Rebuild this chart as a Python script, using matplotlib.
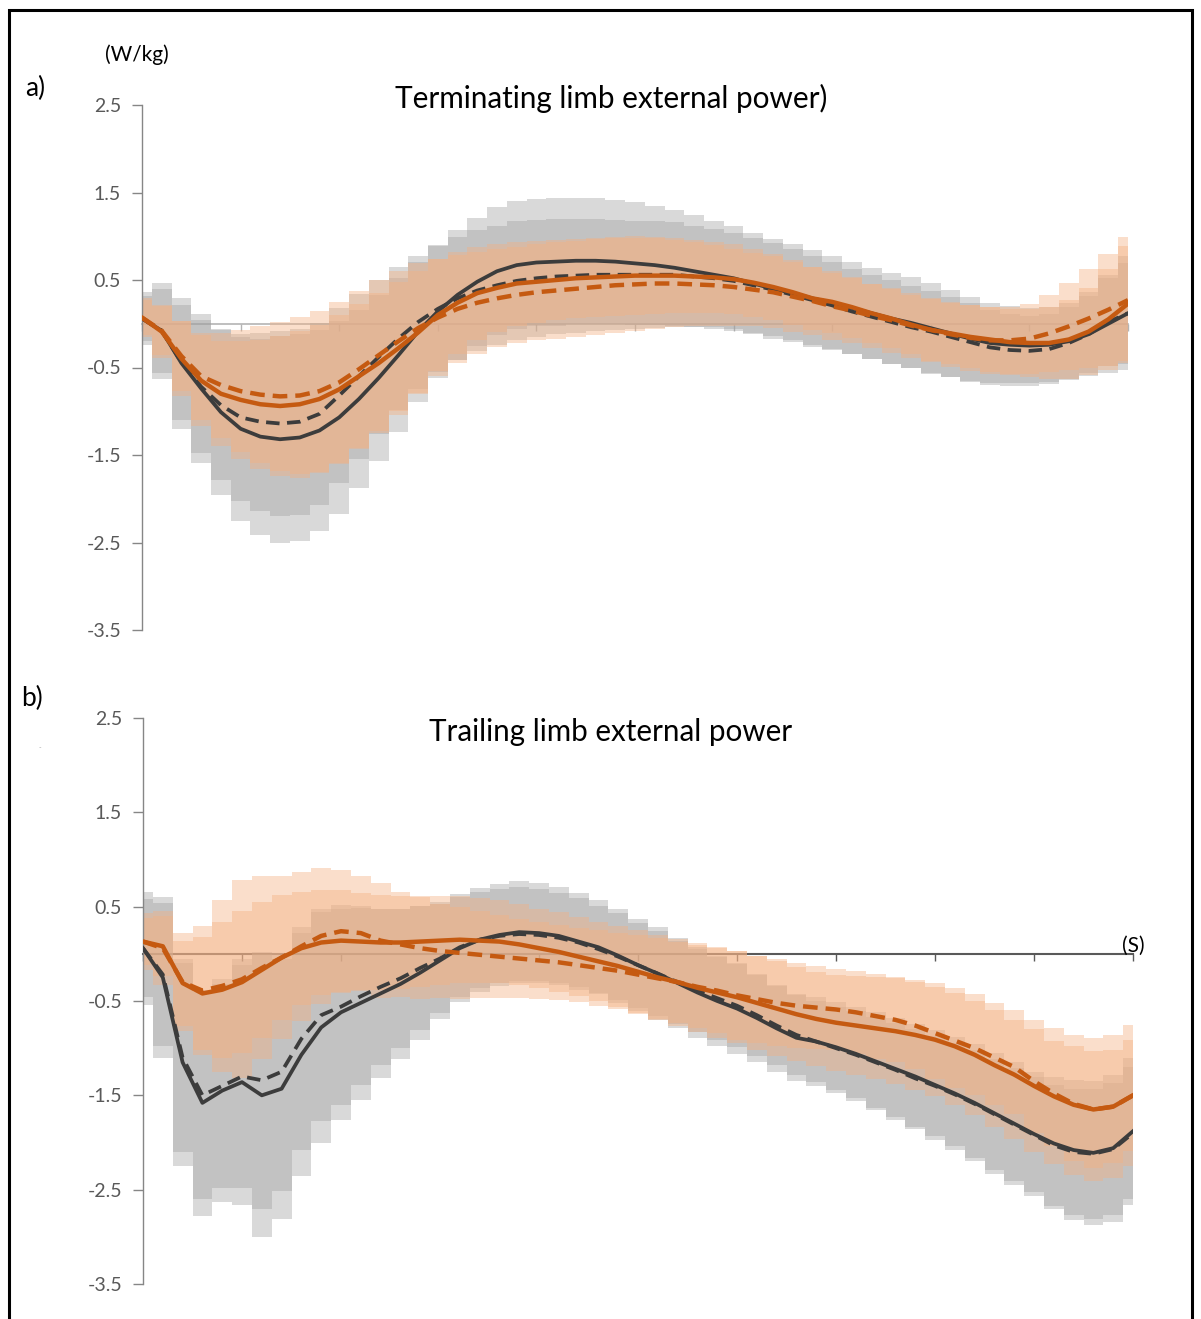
import numpy as np
import matplotlib
matplotlib.use("Agg")
import matplotlib.pyplot as plt
from matplotlib.patches import Rectangle

plt.rcParams['font.family'] = ['Lato', 'DejaVu Sans']

# time axis (% of step), one bar every 2 %
pct = list(range(0, 101, 2))

# ---- panel a : terminating limb ----
a_blk_solid = [0.06, -0.08, -0.45, -0.74, -1.01, -1.2, -1.29, -1.32, -1.3, -1.22, -1.07, -0.86, -0.62, -0.36, -0.09,
               0.14, 0.33, 0.48, 0.6, 0.67, 0.7, 0.71, 0.72, 0.72, 0.71, 0.69, 0.67, 0.64, 0.6, 0.56, 0.52, 0.46,
               0.4, 0.35, 0.29, 0.24, 0.18, 0.12, 0.06, 0.01, -0.05, -0.11, -0.17, -0.22, -0.24, -0.25, -0.24,
               -0.2, -0.12, 0.0, 0.12]
a_blk_dash = [0.06, -0.08, -0.44, -0.72, -0.93, -1.07, -1.12, -1.14, -1.12, -1.03, -0.82, -0.6, -0.38, -0.17, 0.02,
              0.17, 0.29, 0.38, 0.44, 0.49, 0.52, 0.54, 0.55, 0.56, 0.56, 0.56, 0.56, 0.56, 0.54, 0.52, 0.49, 0.44,
              0.39, 0.33, 0.27, 0.21, 0.14, 0.08, 0.02, -0.04, -0.09, -0.15, -0.21, -0.27, -0.3, -0.31, -0.29,
              -0.22, -0.12, 0.02, 0.12]
a_org_solid = [0.07, -0.09, -0.4, -0.65, -0.8, -0.87, -0.92, -0.94, -0.92, -0.86, -0.75, -0.6, -0.45, -0.28, -0.1,
               0.1, 0.24, 0.35, 0.41, 0.46, 0.48, 0.5, 0.52, 0.53, 0.54, 0.55, 0.55, 0.55, 0.54, 0.53, 0.51, 0.47,
               0.42, 0.36, 0.29, 0.25, 0.19, 0.12, 0.06, -0.01, -0.07, -0.11, -0.15, -0.18, -0.21, -0.22, -0.22,
               -0.18, -0.09, 0.05, 0.23]
a_org_dash = [0.07, -0.08, -0.37, -0.6, -0.7, -0.77, -0.81, -0.83, -0.82, -0.77, -0.67, -0.52, -0.36, -0.2, -0.05,
              0.07, 0.17, 0.24, 0.29, 0.33, 0.36, 0.38, 0.4, 0.42, 0.44, 0.45, 0.46, 0.46, 0.45, 0.44, 0.42, 0.39,
              0.36, 0.31, 0.26, 0.2, 0.15, 0.09, 0.04, -0.02, -0.07, -0.12, -0.16, -0.19, -0.19, -0.17, -0.11,
              -0.03, 0.06, 0.16, 0.27]
a_blk_solid_sd = [0.3, 0.55, 0.75, 0.85, 0.95, 1.05, 1.12, 1.18, 1.18, 1.15, 1.1, 1.02, 0.95, 0.88, 0.8, 0.76, 0.74,
                  0.73, 0.73, 0.73, 0.73, 0.73, 0.72, 0.72, 0.71, 0.7, 0.68, 0.66, 0.64, 0.62, 0.6, 0.58, 0.57,
                  0.56, 0.55, 0.54, 0.53, 0.52, 0.52, 0.52, 0.52, 0.5, 0.48, 0.46, 0.44, 0.43, 0.43, 0.44, 0.48,
                  0.56, 0.65]
a_blk_dash_sd = [0.26, 0.48, 0.66, 0.76, 0.86, 0.95, 1.02, 1.06, 1.06, 1.04, 1.0, 0.94, 0.88, 0.82, 0.76, 0.72,
                 0.7, 0.69, 0.68, 0.68, 0.67, 0.66, 0.65, 0.64, 0.63, 0.62, 0.61, 0.6, 0.58, 0.56, 0.55, 0.54, 0.53,
                 0.52, 0.51, 0.5, 0.49, 0.48, 0.48, 0.47, 0.47, 0.46, 0.45, 0.43, 0.41, 0.4, 0.4, 0.41, 0.44, 0.5,
                 0.58]
a_org_solid_sd = [0.22, 0.3, 0.43, 0.52, 0.6, 0.67, 0.74, 0.8, 0.84, 0.85, 0.85, 0.83, 0.8, 0.76, 0.7, 0.64, 0.58,
                  0.53, 0.5, 0.48, 0.47, 0.46, 0.45, 0.45, 0.45, 0.45, 0.44, 0.43, 0.42, 0.41, 0.4, 0.39, 0.38,
                  0.37, 0.36, 0.35, 0.35, 0.34, 0.34, 0.34, 0.35, 0.35, 0.36, 0.37, 0.38, 0.39, 0.41, 0.45, 0.5,
                  0.58, 0.66]
a_org_dash_sd = [0.2, 0.28, 0.4, 0.5, 0.6, 0.7, 0.78, 0.85, 0.9, 0.92, 0.92, 0.9, 0.86, 0.8, 0.74, 0.67, 0.62, 0.58,
                 0.56, 0.55, 0.55, 0.55, 0.55, 0.55, 0.54, 0.53, 0.52, 0.5, 0.48, 0.46, 0.44, 0.42, 0.41, 0.4, 0.39,
                 0.38, 0.37, 0.37, 0.37, 0.37, 0.37, 0.37, 0.38, 0.38, 0.38, 0.4, 0.44, 0.5, 0.57, 0.64, 0.72]

# ---- panel b : trailing limb ----
b_blk_solid = [0.06, -0.25, -1.15, -1.58, -1.45, -1.36, -1.5, -1.43, -1.07, -0.78, -0.62, -0.52, -0.42, -0.32, -0.2,
               -0.07, 0.06, 0.15, 0.2, 0.23, 0.22, 0.19, 0.13, 0.07, -0.02, -0.12, -0.21, -0.31, -0.41, -0.5, -0.58,
               -0.68, -0.79, -0.89, -0.93, -0.99, -1.06, -1.14, -1.22, -1.3, -1.39, -1.48, -1.58, -1.69, -1.8,
               -1.91, -2.01, -2.08, -2.11, -2.06, -1.88]
b_blk_dash = [0.06, -0.22, -1.1, -1.5, -1.4, -1.3, -1.34, -1.25, -0.9, -0.65, -0.56, -0.45, -0.35, -0.26, -0.15,
              -0.05, 0.07, 0.15, 0.19, 0.21, 0.2, 0.17, 0.12, 0.05, -0.03, -0.12, -0.21, -0.3, -0.39, -0.47, -0.55,
              -0.65, -0.76, -0.86, -0.93, -1.0, -1.07, -1.15, -1.23, -1.32, -1.4, -1.49, -1.59, -1.7, -1.81,
              -1.92, -2.03, -2.1, -2.12, -2.07, -1.9]
b_org_solid = [0.13, 0.08, -0.31, -0.42, -0.38, -0.3, -0.17, -0.04, 0.06, 0.12, 0.14, 0.13, 0.12, 0.12, 0.13, 0.14,
               0.15, 0.14, 0.13, 0.1, 0.06, 0.02, -0.03, -0.08, -0.13, -0.19, -0.25, -0.3, -0.36, -0.41, -0.46,
               -0.52, -0.58, -0.64, -0.69, -0.73, -0.76, -0.79, -0.82, -0.86, -0.91, -0.98, -1.07, -1.18, -1.28,
               -1.4, -1.51, -1.6, -1.65, -1.62, -1.5]
b_org_dash = [0.13, 0.06, -0.3, -0.39, -0.34, -0.27, -0.15, -0.04, 0.08, 0.19, 0.24, 0.22, 0.14, 0.1, 0.06, 0.03,
              0.01, -0.01, -0.03, -0.05, -0.07, -0.09, -0.12, -0.15, -0.18, -0.22, -0.26, -0.3, -0.35, -0.39,
              -0.44, -0.48, -0.52, -0.55, -0.57, -0.59, -0.62, -0.66, -0.7, -0.76, -0.84, -0.92, -1.0, -1.1, -1.2,
              -1.35, -1.48, -1.59, -1.65, -1.62, -1.5]
b_blk_solid_sd = [0.6, 0.85, 1.1, 1.2, 1.18, 1.3, 1.5, 1.38, 1.29, 1.22, 1.14, 1.03, 0.9, 0.8, 0.71, 0.62, 0.57,
                  0.55, 0.54, 0.54, 0.53, 0.52, 0.51, 0.5, 0.5, 0.49, 0.49, 0.48, 0.48, 0.48, 0.48, 0.47, 0.46,
                  0.46, 0.47, 0.48, 0.5, 0.52, 0.54, 0.56, 0.58, 0.6, 0.62, 0.64, 0.65, 0.66, 0.7, 0.74, 0.76,
                  0.78, 0.78]
b_blk_dash_sd = [0.52, 0.76, 1.0, 1.1, 1.08, 1.18, 1.36, 1.26, 1.18, 1.12, 1.04, 0.94, 0.83, 0.74, 0.66, 0.58,
                 0.53, 0.51, 0.5, 0.5, 0.49, 0.48, 0.47, 0.46, 0.46, 0.45, 0.45, 0.44, 0.44, 0.44, 0.44, 0.43, 0.42,
                 0.42, 0.43, 0.44, 0.46, 0.48, 0.5, 0.52, 0.53, 0.55, 0.57, 0.59, 0.6, 0.61, 0.64, 0.67, 0.69, 0.7,
                 0.7]
b_org_solid_sd = [0.25, 0.32, 0.45, 0.6, 0.72, 0.75, 0.72, 0.66, 0.6, 0.56, 0.54, 0.52, 0.5, 0.49, 0.48, 0.47,
                  0.46, 0.45, 0.44, 0.43, 0.42, 0.42, 0.42, 0.42, 0.43, 0.44, 0.45, 0.46, 0.47, 0.48, 0.49, 0.5,
                  0.5, 0.5, 0.5, 0.51, 0.52, 0.54, 0.56, 0.58, 0.6, 0.62, 0.64, 0.66, 0.68, 0.7, 0.72, 0.74, 0.76,
                  0.76, 0.75]
b_org_dash_sd = [0.3, 0.39, 0.52, 0.68, 0.91, 1.05, 0.97, 0.86, 0.79, 0.72, 0.65, 0.6, 0.61, 0.56, 0.54, 0.5,
                 0.49, 0.46, 0.44, 0.42, 0.41, 0.4, 0.39, 0.4, 0.4, 0.42, 0.43, 0.43, 0.44, 0.45, 0.47, 0.46, 0.46,
                 0.45, 0.44, 0.43, 0.44, 0.45, 0.45, 0.46, 0.49, 0.5, 0.5, 0.5, 0.5, 0.55, 0.56, 0.61, 0.62, 0.6,
                 0.59]

y_ticks = [2.5, 1.5, 0.5, -0.5, -1.5, -2.5, -3.5]

BLK = '#3c3c3c'
ORG = '#C55A11'
GREY_BAR = '#a0a0a0'
ORG_BAR = '#f4b183'


def draw_panel(ax, series, zero_col, zero_lw):
    x = np.array(pct)
    # error bars as thick translucent columns
    for mean, sd, col, a in series:
        m = np.array(mean)
        s = np.array(sd)
        ax.bar(x, 2 * s, bottom=m - s, width=2.0, color=col, alpha=a, linewidth=0, zorder=2)
    ax.plot(x, series[0][0], color=BLK, lw=2.7, zorder=5)
    ax.plot(x, series[1][0], color=BLK, lw=2.7, dashes=(3.6, 2.0), zorder=5)
    ax.plot(x, series[2][0], color=ORG, lw=3.2, zorder=6)
    ax.plot(x, series[3][0], color=ORG, lw=3.2, dashes=(3.3, 1.8), zorder=6)

    ax.set_xlim(0, 100)
    ax.set_ylim(-3.5, 2.5)
    ax.set_yticks(y_ticks)
    ax.set_yticklabels([f"{v:.1f}" for v in y_ticks])
    ax.set_xticks(range(0, 101, 10))
    ax.set_xticklabels([])
    for sp in ['top', 'right']:
        ax.spines[sp].set_visible(False)
    ax.spines['left'].set_color('#868686')
    ax.spines['left'].set_linewidth(1.0)
    ax.spines['bottom'].set_position(('data', 0))
    ax.spines['bottom'].set_color(zero_col)
    ax.spines['bottom'].set_linewidth(zero_lw)
    ax.spines['bottom'].set_zorder(1)
    ax.tick_params(axis='y', direction='out', length=7, width=1, color='#868686',
                   labelcolor='#595959', labelsize=14, pad=8)
    ax.tick_params(axis='x', direction='out', length=5, width=1, color=zero_col)
    ax.set_facecolor('none')


fig = plt.figure(figsize=(12.01, 13.19), dpi=100)

ax1 = fig.add_axes([142 / 1201, 1 - 630 / 1319, 986 / 1201, 525 / 1319])
draw_panel(ax1, [(a_blk_solid, a_blk_solid_sd, GREY_BAR, 0.4),
                 (a_blk_dash, a_blk_dash_sd, GREY_BAR, 0.4),
                 (a_org_solid, a_org_solid_sd, ORG_BAR, 0.42),
                 (a_org_dash, a_org_dash_sd, ORG_BAR, 0.42)], '#b4b4b4', 1.2)

ax2 = fig.add_axes([143 / 1201, 1 - 1284 / 1319, 990 / 1201, 566 / 1319])
draw_panel(ax2, [(b_blk_solid, b_blk_solid_sd, GREY_BAR, 0.4),
                 (b_blk_dash, b_blk_dash_sd, GREY_BAR, 0.4),
                 (b_org_solid, b_org_solid_sd, ORG_BAR, 0.42),
                 (b_org_dash, b_org_dash_sd, ORG_BAR, 0.42)], '#595959', 1.5)

# labels and titles
fig.text(137 / 1201, 1 - 55 / 1319, "(W/kg)", ha='center', va='center', fontsize=15)
fig.text(35 / 1201, 1 - 88 / 1319, "a)", ha='center', va='center', fontsize=19)
fig.text(32 / 1201, 1 - 698 / 1319, "b)", ha='center', va='center', fontsize=19)
fig.text(611 / 1201, 1 - 98 / 1319, "Terminating limb external power)", ha='center', va='center', fontsize=21.4)
fig.text(611 / 1201, 1 - 732 / 1319, "Trailing limb external power", ha='center', va='center', fontsize=21.3)
fig.text(1133 / 1201, 1 - 946 / 1319, "(S)", ha='center', va='center', fontsize=15)
fig.text(40 / 1201, 1 - 748 / 1319, "-", ha='center', va='center', fontsize=5, color='#aaaaaa')

# frame around the figure
fig.patches.append(Rectangle((9 / 1201, -0.02), 1183 / 1201, 1.02 - 10 / 1319,
                             transform=fig.transFigure, fill=False, edgecolor='black', linewidth=2.2))

fig.savefig("out.png", dpi=100)
